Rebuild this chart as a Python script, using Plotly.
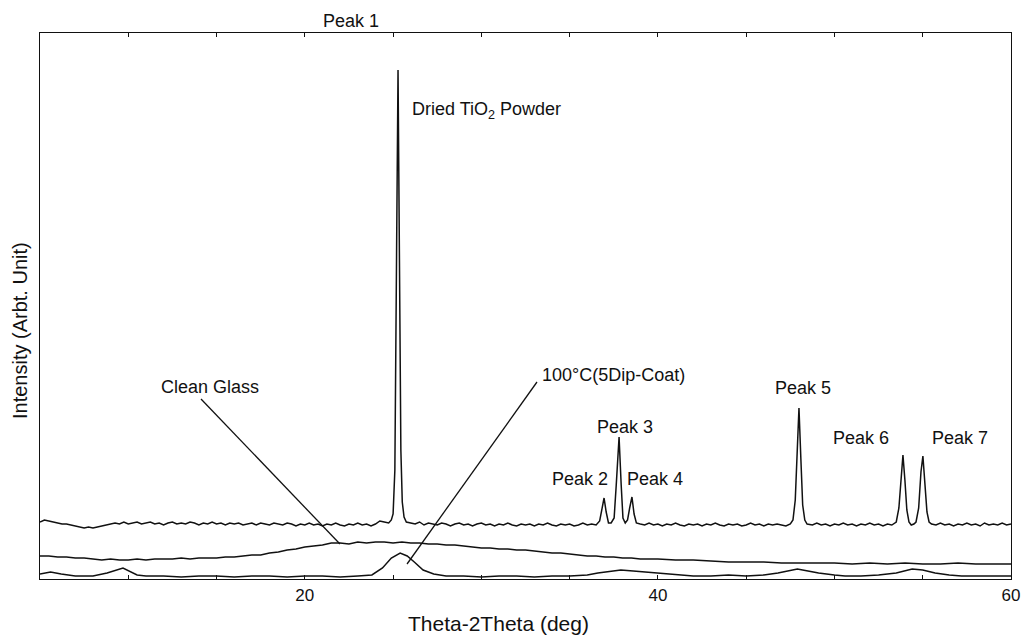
import plotly.graph_objects as go

# ---- Dried TiO2 powder (intensity, arb. units) ----
# baseline sampled every 0.25 deg, peaks sampled densely
tio2_base1_x = [round(5 + 0.25 * i, 2) for i in range(80)]          # 5.00 .. 24.75
tio2_base1_y = [58, 60, 59, 58, 57, 56, 56, 55, 54, 53, 52, 53, 52, 53, 54, 55,
                56, 57, 56, 58, 56, 57, 58, 56, 57, 58, 56, 57, 55, 57, 58, 56,
                57, 56, 58, 57, 55, 57, 56, 58, 56, 57, 55, 57, 56, 57, 55, 56,
                57, 55, 57, 56, 55, 57, 56, 55, 57, 56, 54, 56, 55, 57, 55, 56,
                54, 56, 55, 57, 55, 54, 56, 55, 57, 55, 56, 54, 56, 59, 58, 57]
peak1_x = [24.9, 25.0, 25.1, 25.2, 25.28, 25.36, 25.44, 25.52, 25.62, 25.75]
peak1_y = [60, 66, 110, 300, 510, 320, 130, 78, 63, 58]
tio2_base2_x = [round(26 + 0.25 * i, 2) for i in range(43)]         # 26.00 .. 36.50
tio2_base2_y = [57, 56, 58, 55, 57, 56, 55, 57, 56, 54, 56, 57, 55, 56, 54, 56,
                57, 55, 56, 54, 56, 55, 57, 55, 54, 56, 55, 56, 54, 56, 55, 57,
                55, 54, 56, 55, 56, 54, 55, 57, 55, 56, 55]
peak234_x = [36.7, 36.82, 36.95, 37.07, 37.2, 37.35, 37.52, 37.64, 37.8, 37.92, 38.02,
             38.15, 38.28, 38.4, 38.53, 38.65, 38.78]
peak234_y = [59, 70, 82, 68, 57, 57, 62, 95, 143, 95, 62, 57, 60, 72, 83, 66, 57]
tio2_base3_x = [round(39 + 0.25 * i, 2) for i in range(35)]         # 39.00 .. 47.50
tio2_base3_y = [56, 55, 57, 55, 56, 54, 56, 55, 57, 55, 54, 56, 55, 56, 54, 56,
                55, 57, 55, 54, 56, 55, 56, 54, 55, 57, 55, 56, 54, 56, 55, 56,
                55, 54, 56]
peak5_x = [47.65, 47.78, 47.88, 47.99, 48.1, 48.2, 48.32, 48.45]
peak5_y = [60, 80, 130, 172, 120, 75, 60, 56]
tio2_base4_x = [round(48.75 + 0.25 * i, 2) for i in range(19)]      # 48.75 .. 53.25
tio2_base4_y = [55, 57, 55, 56, 54, 56, 55, 57, 55, 56, 54, 56, 55, 57, 55, 56,
                54, 56, 55]
peak67_x = [53.5, 53.65, 53.77, 53.88, 53.99, 54.1, 54.22, 54.35, 54.5, 54.62, 54.77,
            54.9, 55.01, 55.12, 55.24, 55.36, 55.5]
peak67_y = [58, 72, 105, 125, 100, 70, 58, 55, 56, 58, 72, 108, 124, 98, 68, 58, 56]
tio2_base5_x = [round(55.75 + 0.25 * i, 2) for i in range(18)]      # 55.75 .. 60.00
tio2_base5_y = [55, 57, 55, 56, 54, 56, 55, 57, 55, 56, 54, 57, 55, 56, 55, 57, 55, 56]

tio2_x = (tio2_base1_x + peak1_x + tio2_base2_x + peak234_x + tio2_base3_x + peak5_x
          + tio2_base4_x + peak67_x + tio2_base5_x)
tio2_y = (tio2_base1_y + peak1_y + tio2_base2_y + peak234_y + tio2_base3_y + peak5_y
          + tio2_base4_y + peak67_y + tio2_base5_y)

# ---- Clean glass ----
glass_x = [5.0, 5.5, 6.0, 6.5, 7.0, 7.5, 8.0, 8.5, 9.0, 9.5, 10.0, 10.5, 11.0, 11.5, 12.0,
           12.5, 13.0, 13.5, 14.0, 14.5, 15.0, 15.5, 16.0, 16.5, 17.0, 17.5, 18.0, 18.5,
           19.0, 19.5, 20.0, 20.5, 21.0, 21.5, 22.0, 22.5, 23.0, 23.5, 24.0, 24.5, 25.0,
           25.5, 26.0, 26.5, 27.0, 27.5, 28.0, 28.5, 29.0, 29.5, 30.0, 30.5, 31.0, 31.5,
           32.0, 32.5, 33.0, 33.5, 34.0, 34.5, 35.0, 35.5, 36.0, 36.5, 37.0, 37.5, 38.0,
           38.5, 39.0, 39.5, 40.0, 41.0, 42.0, 43.0, 44.0, 45.0, 46.0, 47.0, 48.0, 49.0,
           50.0, 51.0, 52.0, 53.0, 54.0, 55.0, 56.0, 57.0, 58.0, 59.0, 60.0]
glass_y = [24, 24, 23, 23, 22, 22, 21, 20, 21, 20, 20, 21, 20, 21, 21,
           21, 22, 21, 22, 22, 22, 23, 23, 24, 25, 25, 27, 28,
           30, 31, 33, 34, 35, 37, 37, 36, 38, 37, 38, 38, 37,
           38, 37, 37, 36, 36, 35, 35, 34, 33, 32, 32, 31, 31,
           30, 30, 29, 28, 27, 27, 26, 25, 24, 24, 23, 23, 22,
           22, 21, 21, 21, 20, 20, 19, 18, 18, 18, 17, 17, 17,
           17, 16, 17, 16, 17, 16, 16, 17, 16, 16, 16]

# ---- 100 C (5 dip-coat) ----
dip_x = [5.0, 5.6, 6.2, 7.0, 8.0, 8.8, 9.7, 10.5, 11.0, 12.0, 13.0, 14.0, 15.0, 16.0, 17.0,
         18.0, 19.0, 20.0, 21.0, 22.0, 23.0, 23.8, 24.4, 24.9, 25.4, 25.8, 26.2, 26.7, 27.3,
         28.0, 29.0, 30.0, 31.0, 32.0, 33.0, 34.0, 35.0, 36.0, 36.6, 37.3, 37.9, 38.6, 39.3,
         40.2, 41.2, 42.0, 43.0, 44.0, 45.0, 46.0, 46.8, 47.4, 47.9, 48.5, 49.1, 50.0, 50.6,
         51.5, 52.5, 53.5, 54.4, 55.0, 55.7, 56.5, 57.2, 58.0, 59.0, 60.0]
dip_y = [6, 8, 6, 4, 4, 7, 12, 5, 4, 4, 3, 4, 4, 3, 4,
         4, 3, 4, 4, 3, 4, 5, 12, 22, 27, 24, 18, 10, 6,
         4, 4, 3, 4, 4, 3, 4, 4, 5, 7, 9, 10, 9, 8,
         6, 5, 4, 4, 5, 4, 5, 7, 9, 11, 9, 7, 5, 4,
         4, 5, 7, 11, 10, 7, 5, 4, 4, 4, 4]

FONT = "Liberation Sans, Arial, sans-serif"
INK = "#111111"

fig = go.Figure()
for xs, ys, name in [(tio2_x, tio2_y, "Dried TiO2 Powder"),
                     (glass_x, glass_y, "Clean Glass"),
                     (dip_x, dip_y, "100°C(5Dip-Coat)")]:
    fig.add_trace(go.Scatter(x=xs, y=ys, mode="lines", name=name,
                             line=dict(color=INK, width=1.5), showlegend=False))

# leader lines
fig.add_shape(type="line", x0=14.12, y0=181, x1=21.99, y1=36, xref="x", yref="y",
              line=dict(color=INK, width=1.3))
fig.add_shape(type="line", x0=33.15, y0=198, x1=25.79, y1=16, xref="x", yref="y",
              line=dict(color=INK, width=1.3))

labels = [
    ("Clean Glass", 14.63, 193, "center"),
    ("100°C(5Dip-Coat)", 37.51, 205, "center"),
    ("Dried TiO<sub>2</sub> Powder", 25.96, 470, "left"),
    ("Peak 2", 35.59, 101, "center"),
    ("Peak 3", 38.13, 153, "center"),
    ("Peak 4", 39.83, 101, "center"),
    ("Peak 5", 48.22, 192, "center"),
    ("Peak 6", 51.50, 142, "center"),
    ("Peak 7", 57.11, 142, "center"),
]
for text, x, y, anchor in labels:
    fig.add_annotation(x=x, y=y, xref="x", yref="y", text=text, showarrow=False,
                       xanchor=anchor, yanchor="middle",
                       font=dict(family=FONT, size=18, color=INK))

fig.add_annotation(x=22.62, y=1.022, xref="x", yref="paper", text="Peak 1",
                   showarrow=False, xanchor="center", yanchor="middle",
                   font=dict(family=FONT, size=18, color=INK))

fig.add_annotation(x=-0.0206, y=0.456, xref="paper", yref="paper",
                   text="Intensity (Arbt. Unit)", showarrow=False, textangle=-90,
                   xanchor="center", yanchor="middle",
                   font=dict(family=FONT, size=20, color=INK))
fig.add_annotation(x=0.4717, y=-0.0824, xref="paper", yref="paper",
                   text="Theta-2Theta (deg)", showarrow=False,
                   xanchor="center", yanchor="middle",
                   font=dict(family=FONT, size=21, color=INK))

fig.update_layout(
    width=1024, height=637,
    margin=dict(l=40, r=13, t=33, b=58),
    paper_bgcolor="white", plot_bgcolor="white",
    font=dict(family=FONT, size=17, color=INK),
    xaxis=dict(range=[5, 60], tickvals=[20, 40, 60], ticktext=["20", "40", "60"],
               ticks="inside", ticklen=4, tickcolor=INK, showline=True, linecolor=INK,
               linewidth=1.3, mirror="ticks", showgrid=False, zeroline=False,
               automargin=False,
               tickfont=dict(family=FONT, size=17, color=INK),
               minor=dict(dtick=5, ticks="inside", ticklen=4, tickcolor=INK, showgrid=False)),
    yaxis=dict(range=[1, 547], showticklabels=False, ticks="", showline=True,
               linecolor=INK, linewidth=1.3, mirror=True, showgrid=False, zeroline=False,
               automargin=False),
)

fig.write_html("out.html")
